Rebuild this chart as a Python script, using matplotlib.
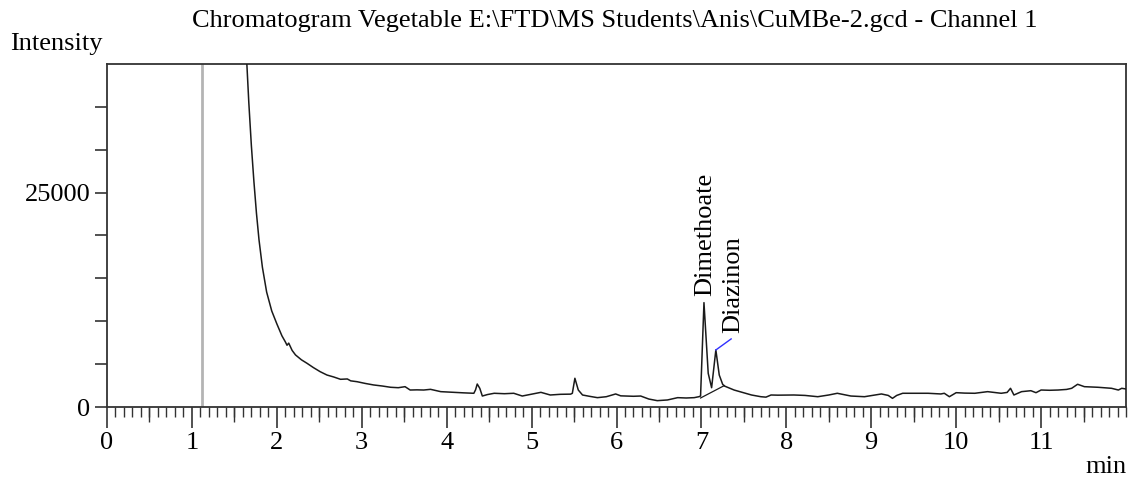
import matplotlib
matplotlib.use("Agg")
import matplotlib.pyplot as plt
from matplotlib.ticker import FixedLocator, MultipleLocator, FixedFormatter

plt.rcParams['font.family'] = ['Liberation Serif', 'DejaVu Serif']

# ---- data ----
time_min = [1.60, 1.647, 1.67, 1.70, 1.73, 1.76, 1.79, 1.83, 1.88, 1.94,
            2.00, 2.06, 2.10, 2.12, 2.14, 2.18, 2.22, 2.29, 2.355, 2.43,
            2.51, 2.59, 2.67, 2.75, 2.83, 2.87, 2.945, 3.04, 3.14, 3.24,
            3.34, 3.43, 3.51, 3.57, 3.65, 3.73, 3.81, 3.93, 4.08, 4.20,
            4.32, 4.34, 4.36, 4.39, 4.42, 4.48, 4.56, 4.68, 4.79, 4.89,
            5.00, 5.11, 5.22, 5.34, 5.46, 5.48, 5.51, 5.55, 5.60, 5.68,
            5.775, 5.88, 5.99, 6.05, 6.13, 6.20, 6.285, 6.38, 6.48, 6.60,
            6.72, 6.82, 6.915, 6.97, 6.99, 7.03, 7.08, 7.12, 7.17, 7.21,
            7.25, 7.27, 7.33, 7.385, 7.45, 7.52, 7.59, 7.66, 7.70, 7.76,
            7.82, 7.90, 8.09, 8.22, 8.37, 8.50, 8.60, 8.76, 8.92, 9.05,
            9.12, 9.20, 9.25, 9.30, 9.37, 9.55, 9.67, 9.82, 9.86, 9.92,
            10.00, 10.10, 10.22, 10.37, 10.53, 10.60, 10.64, 10.68, 10.77, 10.88,
            10.94, 11.00, 11.10, 11.20, 11.30, 11.36, 11.43, 11.51, 11.67, 11.83,
            11.91, 11.95, 12.00]
intensity = [48000, 40000, 35500, 30500, 26300, 22600, 19500, 16300, 13400, 11200,
             9700, 8300, 7600, 7200, 7450, 6600, 6070, 5500, 5100, 4600,
             4120, 3730, 3500, 3230, 3270, 3050, 2950, 2750, 2570, 2450,
             2300, 2250, 2370, 1980, 2000, 1980, 2060, 1790, 1710, 1650,
             1600, 2000, 2680, 2180, 1280, 1450, 1600, 1550, 1600, 1280,
             1500, 1710, 1400, 1480, 1500, 1600, 3350, 1980, 1400, 1250,
             1090, 1200, 1520, 1300, 1280, 1250, 1280, 930, 740, 820,
             1090, 1050, 1090, 1200, 1280, 12170, 3930, 2250, 6650, 3730,
             2650, 2450, 2200, 1980, 1800, 1600, 1400, 1280, 1200, 1150,
             1400, 1380, 1400, 1350, 1200, 1400, 1600, 1280, 1200, 1400,
             1520, 1350, 1010, 1350, 1600, 1600, 1600, 1520, 1600, 1200,
             1670, 1620, 1600, 1790, 1600, 1700, 2180, 1400, 1790, 1900,
             1670, 1980, 1950, 1980, 2050, 2180, 2650, 2370, 2300, 2180,
             1980, 2180, 2100]

# integration baseline under the two peaks
baseline_time = [6.99, 7.27]
baseline_int = [1050, 2500]

# solvent-delay marker
marker_time = 1.12

peak_names = ["Dimethoate", "Diazinon"]
peak_label_time = [7.05, 7.37]
peak_label_int = [12950, 8640]
# Diazinon leader line (from peak apex to label)
leader_time = [7.17, 7.35]
leader_int = [6650, 7940]

x_major = [0, 1, 2, 3, 4, 5, 6, 7, 8, 9, 10, 11]
x_mid = [0.5, 1.5, 2.5, 3.5, 4.5, 5.5, 6.5, 7.5, 8.5, 9.5, 10.5, 11.5]
y_ticks = [0, 5000, 10000, 15000, 20000, 25000, 30000, 35000]
y_labels = ["0", "", "", "", "", "25000", "", ""]

# ---- figure ----
W, H = 1131, 480
fig = plt.figure(figsize=(W / 100, H / 100), dpi=100)
ax = fig.add_axes([107 / W, 1 - 407 / H, (1126 - 107) / W, (407 - 64) / H])

FS = 19
frame_col = "#333333"

ax.axvline(marker_time, color="#b4b4b4", lw=2.0, zorder=1)
ax.plot(time_min, intensity, color="#1a1a1a", lw=1.1, zorder=3)
ax.plot(baseline_time, baseline_int, color="#1a1a1a", lw=0.9, zorder=3)
ax.plot(leader_time, leader_int, color="#3030ff", lw=1.0, zorder=3)

for name, t, v in zip(peak_names, peak_label_time, peak_label_int):
    ax.text(t, v, name, rotation=90, ha="center", va="bottom", fontsize=FS,
            color="black")

ax.set_xlim(0, 12)
ax.set_ylim(0, 40000)

ax.xaxis.set_major_locator(FixedLocator(x_major))
ax.xaxis.set_minor_locator(MultipleLocator(0.1))
ax.yaxis.set_major_locator(FixedLocator(y_ticks))
ax.yaxis.set_major_formatter(FixedFormatter(y_labels))
ax.yaxis.set_minor_locator(FixedLocator([]))

ax.tick_params(axis="x", which="major", direction="out", length=15, width=1.2,
               color=frame_col, labelsize=FS, pad=3)
ax.tick_params(axis="x", which="minor", direction="out", length=7, width=1.0,
               color=frame_col)
ax.tick_params(axis="y", which="major", direction="out", length=9, width=1.2,
               color=frame_col, labelsize=FS, pad=3)

sec = ax.secondary_xaxis("bottom")
sec.set_xticks(x_mid)
sec.tick_params(axis="x", which="major", direction="out", length=11, width=1.0,
                color=frame_col, labelbottom=False)
sec.xaxis.set_minor_locator(FixedLocator([]))
sec.spines["bottom"].set_visible(False)

for s in ax.spines.values():
    s.set_color(frame_col)
    s.set_linewidth(1.3)

fig.text(615 / W, 1 - 21 / H,
         "Chromatogram Vegetable E:\\FTD\\MS Students\\Anis\\CuMBe-2.gcd - Channel 1",
         ha="center", va="center", fontsize=FS)
fig.text(10 / W, 1 - 44 / H, "Intensity", ha="left", va="center", fontsize=FS)
fig.text(1127 / W, 1 - 467 / H, "min", ha="right", va="center", fontsize=FS)

fig.savefig("out.png", dpi=100)
